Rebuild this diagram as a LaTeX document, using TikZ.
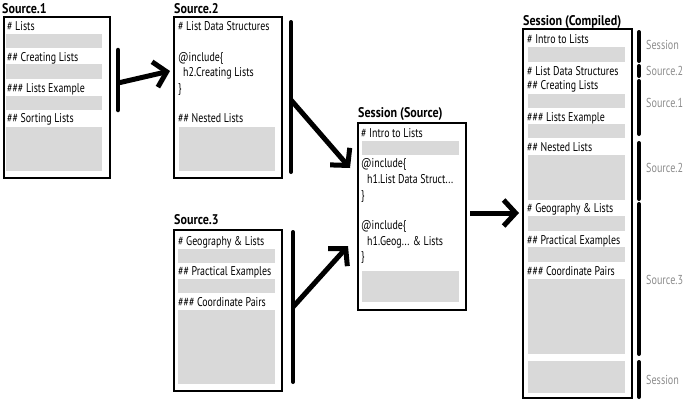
\documentclass[tikz,border=0pt]{standalone}
\usepackage{fontspec}
\setmainfont{PT Sans}[FakeStretch=0.78, BoldFeatures={FakeStretch=0.86}]
\usetikzlibrary{arrows.meta}
\definecolor{barfill}{HTML}{D9D9D9}
\definecolor{labelgray}{HTML}{8C8C8C}
\newcommand\gbar[5]{\node[gb, minimum width={(#4-#2)*1pt}, minimum height={(#5-#3)*1pt}] (#1) at (#2,#3) {};}
\newcommand\tbox[5]{\node[boxst, minimum width={(#4-#2)*1pt}, minimum height={(#5-#3)*1pt}] (#1) at (#2,#3) {};}
\begin{document}
\begin{tikzpicture}[x=1pt,y=-1pt,
  txt/.style={anchor=base west, inner sep=0pt, font=\fontsize{12.7}{14}\selectfont},
  ttl/.style={anchor=base west, inner sep=0pt, font=\fontsize{14}{16}\selectfont\bfseries},
  lbl/.style={anchor=west, inner sep=0pt, text=labelgray, font=\fontsize{13}{15}\selectfont},
  boxst/.style={draw=black, line width=2pt, anchor=north west, inner sep=0pt, fill=white},
  gb/.style={fill=barfill, draw=none, anchor=north west, inner sep=0pt},
  vbar/.style={line width=4.5pt, line cap=round},
  sbar/.style={line width=4pt, line cap=round},
  arr/.style={line width=5pt, -{Straight Barb[length=12pt,width=26pt]}}
]
\useasboundingbox (0,0) rectangle (685,400);

% ---------- Source.1 ----------
\node[ttl] (t1) at (2,13) {Source.1};
\tbox{s1}{3}{16}{109}{177}
\node[txt] (s1a) at (7,30) {\# Lists};
\gbar{s1g1}{6}{34}{102}{48}
\node[txt] (s1b) at (7,61) {\#\# Creating Lists};
\gbar{s1g2}{6}{64}{102}{79}
\node[txt] (s1c) at (7,92) {\#\#\# Lists Example};
\gbar{s1g3}{6}{96}{102}{110}
\node[txt] (s1d) at (7,122) {\#\# Sorting Lists};
\gbar{s1g4}{6}{127}{102}{171}

% ---------- Source.2 ----------
\node[ttl] (t2) at (174,13) {Source.2};
\tbox{s2}{173}{16}{281}{177}
\node[txt] (s2a) at (178,30) {\# List Data Structures};
\node[txt] (s2b) at (178,61) {@include\{};
\node[txt] (s2c) at (183,76) {h2.Creating Lists};
\node[txt] (s2d) at (178,92) {\}};
\node[txt] (s2e) at (178,122) {\#\# Nested Lists};
\gbar{s2g1}{179}{127}{275}{171}

% ---------- Source.3 ----------
\node[ttl] (t3) at (174,224) {Source.3};
\tbox{s3}{173}{229}{281}{390}
\node[txt] (s3a) at (178,245) {\# Geography \& Lists};
\gbar{s3g1}{178}{249}{275}{263}
\node[txt] (s3b) at (178,275) {\#\# Practical Examples};
\gbar{s3g2}{178}{279}{275}{293}
\node[txt] (s3c) at (178,306) {\#\#\# Coordinate Pairs};
\gbar{s3g3}{178}{310}{275}{384}

% ---------- Session (Source) ----------
\node[ttl] (t4) at (358,117) {Session (Source)};
\tbox{ss}{357}{122}{465}{309}
\node[txt] (ssa) at (361,137) {\# Intro to Lists};
\gbar{ssg1}{362}{141}{459}{155}
\node[txt] (ssb) at (361,167) {@include\{};
\node[txt] (ssc) at (367,183) {h1.List Data Struct...};
\node[txt] (ssd) at (361,199) {\}};
\node[txt] (sse) at (361,229) {@include\{};
\node[txt] (ssf) at (367,245) {h1.Geog... \& Lists};
\node[txt] (ssg) at (361,260) {\}};
\gbar{ssg2}{362}{271}{459}{302}

% ---------- Session (Compiled) ----------
\node[ttl] (t5) at (523,25) {Session (Compiled)};
\tbox{sc}{522}{28}{631}{397}
\node[txt] (sca) at (527,43) {\# Intro to Lists};
\gbar{scg1}{528}{47}{625}{62}
\node[txt] (scb) at (527,75) {\# List Data Structures};
\node[txt] (scc) at (527,89) {\#\# Creating Lists};
\gbar{scg2}{528}{94}{625}{108}
\node[txt] (scd) at (527,121) {\#\#\# Lists Example};
\gbar{scg3}{528}{124}{625}{138}
\node[txt] (sce) at (527,151) {\#\# Nested Lists};
\gbar{scg4}{528}{155}{625}{200}
\node[txt] (scf) at (527,212) {\# Geography \& Lists};
\gbar{scg5}{528}{216}{625}{231}
\node[txt] (scg) at (527,244) {\#\# Practical Examples};
\gbar{scg6}{528}{247}{625}{262}
\node[txt] (sch) at (527,275) {\#\#\# Coordinate Pairs};
\gbar{scg7}{528}{279}{625}{354}
\gbar{scg8}{528}{361}{625}{393}

% ---------- side brackets ----------
\coordinate (b1t) at (639,32);  \coordinate (b1b) at (639,61);
\coordinate (b2t) at (639,66);  \coordinate (b2b) at (639,76);
\coordinate (b3t) at (639,81);  \coordinate (b3b) at (639,134);
\coordinate (b4t) at (639,143); \coordinate (b4b) at (639,199);
\coordinate (b5t) at (639,204); \coordinate (b5b) at (639,354);
\coordinate (b6t) at (639,362); \coordinate (b6b) at (639,397);
\draw[sbar] (b1t) -- (b1b);
\draw[sbar] (b2t) -- (b2b);
\draw[sbar] (b3t) -- (b3b);
\draw[sbar] (b4t) -- (b4b);
\draw[sbar] (b5t) -- (b5b);
\draw[sbar] (b6t) -- (b6b);
\node[lbl] (l1) at (646,45) {Session};
\node[lbl] (l2) at (646,71) {Source.2};
\node[lbl] (l3) at (646,103) {Source.1};
\node[lbl] (l4) at (646,168) {Source.2};
\node[lbl] (l5) at (646,280) {Source.3};
\node[lbl] (l6) at (646,380) {Session};

% ---------- arrows ----------
\coordinate (v1t) at (118,50);  \coordinate (v1b) at (118,110);
\coordinate (v2t) at (291,22);  \coordinate (v2b) at (291,172);
\coordinate (v3t) at (293,232); \coordinate (v3b) at (293,382);
\draw[vbar] (v1t) -- (v1b);
\draw[sbar] (v2t) -- (v2b);
\draw[sbar] (v3t) -- (v3b);

\coordinate (a1s) at (118,83);  \coordinate (a1e) at (170,71);
\coordinate (a2s) at (291,100); \coordinate (a2e) at (350,168);
\coordinate (a3s) at (293,307); \coordinate (a3e) at (348,246);
\coordinate (a4s) at (470,213); \coordinate (a4e) at (519,213);
\draw[arr] (a1s) -- (a1e);
\draw[arr] (a2s) -- (a2e);
\draw[arr] (a3s) -- (a3e);
\draw[arr] (a4s) -- (a4e);
\end{tikzpicture}
\end{document}
